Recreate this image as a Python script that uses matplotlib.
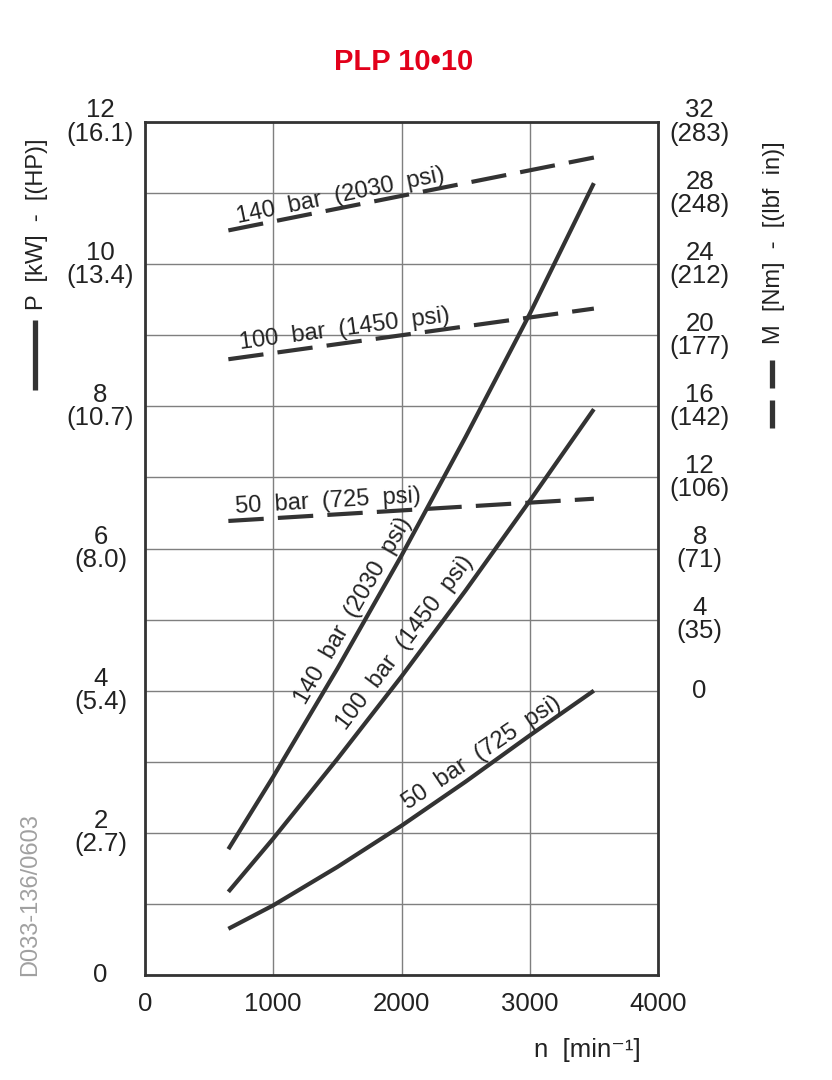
import matplotlib
matplotlib.use("Agg")
import matplotlib.pyplot as plt
from matplotlib.lines import Line2D

FONT = ['Liberation Sans', 'DejaVu Sans']
plt.rcParams['font.family'] = FONT

# ---- data ----
rpm = [650, 1000, 1500, 2000, 2500, 3000, 3500]
power_140 = [1.77, 2.79, 4.31, 5.90, 7.57, 9.30, 11.14]
power_100 = [1.17, 1.92, 3.04, 4.20, 5.41, 6.67, 7.96]
power_50 = [0.65, 0.98, 1.52, 2.10, 2.72, 3.37, 4.00]

rpm_torque = [650, 3500]
torque_140 = [25.9, 30.0]
torque_100 = [18.65, 21.5]
torque_50 = [9.55, 10.8]

x_ticks = [0, 1000, 2000, 3000, 4000]
p_ticks = [0, 2, 4, 6, 8, 10, 12]
p_labels = ['0', '2\n(2.7)', '4\n(5.4)', '6\n(8.0)', '8\n(10.7)', '10\n(13.4)', '12\n(16.1)']
m_ticks = [0, 4, 8, 12, 16, 20, 24, 28, 32]
m_labels = ['0', '4\n(35)', '8\n(71)', '12\n(106)', '16\n(142)', '20\n(177)',
            '24\n(212)', '28\n(248)', '32\n(283)']

INK = '#333333'
TXT = '#222222'
FS = 17      # in-plot labels
FT = 18.5    # tick labels

fig = plt.figure(figsize=(8.32, 10.8), dpi=100)
W, H = 832, 1080
ax = fig.add_axes([145 / W, 105 / H, 513 / W, 853 / H])
ax.set_xlim(0, 4000)
ax.set_ylim(0, 12)

# grid
ax.set_xticks(x_ticks)
ax.set_xticklabels([str(v) for v in x_ticks], fontsize=FT, color=TXT)
ax.grid(True, color='#7f7f7f', lw=1.0)
ax.set_axisbelow(True)
for s in ax.spines.values():
    s.set_linewidth(2.0)
    s.set_color(INK)
ax.tick_params(axis='x', length=0, pad=12)
ax.tick_params(axis='y', length=0, pad=32)
# left labels at even values only
ax.set_yticks(range(0, 13))
lbls = []
for v in range(0, 13):
    lbls.append(p_labels[p_ticks.index(v)] if v in p_ticks else '')
ax.set_yticklabels(lbls, fontsize=FT, color=TXT, ha='center', va='center',
                   linespacing=0.95)

# power curves (solid)
for p in (power_140, power_100, power_50):
    ax.plot(rpm, p, color=INK, lw=3.0, solid_capstyle='butt')

# torque axis
ax2 = ax.twinx()
ax2.set_ylim(-16, 32)
ax2.set_yticks(m_ticks)
ax2.set_yticklabels(m_labels, fontsize=FT, color=TXT, ha='center', va='center',
                    linespacing=0.95)
ax2.tick_params(axis='y', length=0, pad=30)
for s in ax2.spines.values():
    s.set_visible(False)
for t in (torque_140, torque_100, torque_50):
    ax2.plot(rpm_torque, t, color=INK, lw=3.0, dashes=(8.5, 3.4),
             solid_capstyle='butt', dash_capstyle='butt')

# labels on dashed (torque) lines
ax.text(725, 10.58, '140  bar  (2030  psi)', rotation=11.6, rotation_mode='anchor',
        ha='left', va='baseline', fontsize=FS, color=TXT)
ax.text(741, 8.80, '100  bar  (1450  psi)', rotation=7.5, rotation_mode='anchor',
        ha='left', va='baseline', fontsize=FS, color=TXT)
ax.text(710, 6.50, '50  bar  (725  psi)', rotation=3.4, rotation_mode='anchor',
        ha='left', va='baseline', fontsize=FS, color=TXT)

# labels on solid (power) lines
ax.text(1622, 5.13, '140  bar  (2030  psi)', rotation=60, rotation_mode='anchor',
        ha='center', va='center', fontsize=FS, color=TXT)
ax.text(2027, 4.67, '100  bar  (1450  psi)', rotation=53, rotation_mode='anchor',
        ha='center', va='center', fontsize=FS, color=TXT)
ax.text(2628, 3.12, '50  bar  (725  psi)', rotation=34, rotation_mode='anchor',
        ha='center', va='center', fontsize=FS, color=TXT)

# title
fig.text(404 / W, 1 - 62 / H, 'PLP 10•10', color='#e2001a', fontsize=21,
         fontweight='bold', ha='center', va='center')

# axis titles with line-style markers
fig.text(37 / W, 1 - 224 / H, 'P  [kW]  -  [(HP)]', rotation=90, ha='center',
         va='center', fontsize=FS, color=TXT)
fig.add_artist(Line2D([35 / W, 35 / W], [1 - 320 / H, 1 - 390 / H],
                      color=INK, lw=3.8, solid_capstyle='butt'))
fig.text(774 / W, 1 - 243 / H, 'M  [Nm]  -  [(lbf  in)]', rotation=90, ha='center',
         va='center', fontsize=FS, color=TXT)
fig.add_artist(Line2D([772 / W, 772 / W], [1 - 360 / H, 1 - 388 / H],
                      color=INK, lw=3.8, solid_capstyle='butt'))
fig.add_artist(Line2D([772 / W, 772 / W], [1 - 400 / H, 1 - 428 / H],
                      color=INK, lw=3.8, solid_capstyle='butt'))

fig.text(587 / W, 1 - 1050 / H, 'n  [min⁻¹]', ha='center', va='center',
         fontsize=FT, color=TXT, family=FONT)

# drawing code
fig.text(30 / W, 1 - 895 / H, 'D033-136/0603', rotation=90, ha='center',
         va='center', fontsize=17, color='#a0a0a0', family=FONT)

fig.savefig('out.png', dpi=100, facecolor='white')
